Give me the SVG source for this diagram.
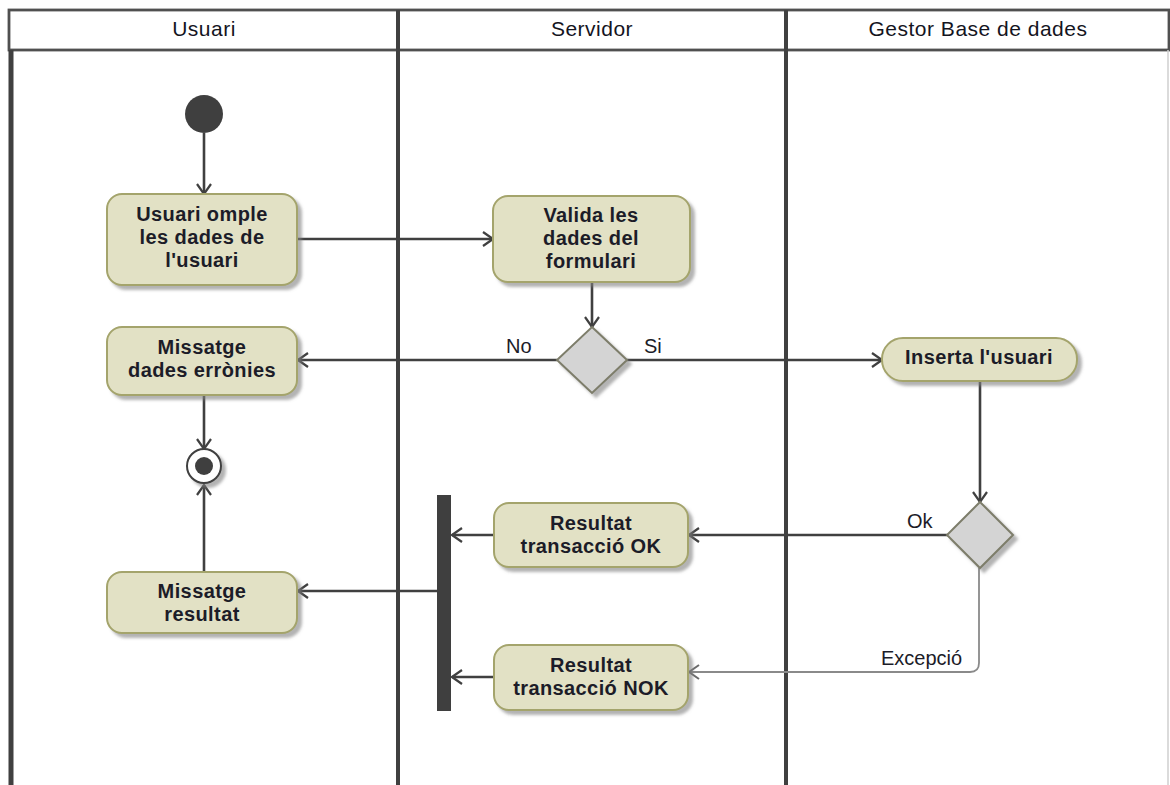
<svg xmlns="http://www.w3.org/2000/svg" width="1170" height="785" viewBox="0 0 1170 785">
  <defs>
    <style>
      .lane-head { font-family: "Liberation Sans", Arial, sans-serif; font-size: 21px; fill: #14141e; text-anchor: middle; letter-spacing: 0.5px; }
      .act { fill: #e2e1c5; stroke: #a4a46c; stroke-width: 2; filter: url(#shadow); }
      .act-text { font-family: "Liberation Sans", Arial, sans-serif; font-size: 20px; font-weight: bold; fill: #1c1c28; text-anchor: middle; letter-spacing: 0.4px; }
      .dec { fill: #d4d4d4; stroke: #7d7d6a; stroke-width: 2; filter: url(#shadow); }
      .flow { fill: none; stroke: #404040; stroke-width: 2.6; marker-end: url(#arr); }
      .flow-light { fill: none; stroke: #8a8a8a; stroke-width: 1.8; marker-end: url(#arr-light); }
      .guard { font-family: "Liberation Sans", Arial, sans-serif; font-size: 20px; fill: #1c1c28; }
    </style>
    <filter id="shadow" x="-10%" y="-10%" width="130%" height="140%">
      <feDropShadow dx="4" dy="4" stdDeviation="1.5" flood-color="#808080" flood-opacity="0.6"/>
    </filter>
    <marker id="arr" viewBox="0 0 12 16" refX="11" refY="8" markerWidth="12" markerHeight="16" markerUnits="userSpaceOnUse" orient="auto">
      <path d="M1,1 L11,8 L1,15" fill="none" stroke="#404040" stroke-width="2.2"/>
    </marker>
    <marker id="arr-light" viewBox="0 0 12 16" refX="11" refY="8" markerWidth="12" markerHeight="16" markerUnits="userSpaceOnUse" orient="auto">
      <path d="M1,1 L11,8 L1,15" fill="none" stroke="#6a6a6a" stroke-width="2"/>
    </marker>
  </defs>

  <rect width="1170" height="785" fill="#ffffff"/>

  <!-- swimlanes -->
  <g id="lanes">
    <rect x="9" y="10" width="1160" height="40" fill="#ffffff" stroke="#505050" stroke-width="2.8"/>
    <line x1="11" y1="50" x2="11" y2="785" stroke="#404040" stroke-width="5"/>
    <line x1="398" y1="10" x2="398" y2="785" stroke="#404040" stroke-width="4"/>
    <line x1="786" y1="10" x2="786" y2="785" stroke="#404040" stroke-width="4"/>
    <line x1="1168" y1="50" x2="1168" y2="785" stroke="#cfcfcf" stroke-width="1.5"/>
    <text class="lane-head" x="204" y="36">Usuari</text>
    <text class="lane-head" x="592" y="36">Servidor</text>
    <text class="lane-head" x="978" y="36">Gestor Base de dades</text>
  </g>

  <!-- connectors -->
  <g id="connectors">
    <line class="flow" x1="204" y1="133" x2="204" y2="194"/>
    <line class="flow" x1="297" y1="239" x2="493" y2="239"/>
    <line class="flow" x1="592" y1="282" x2="592" y2="327"/>
    <line class="flow" x1="557" y1="360" x2="298" y2="360"/>
    <line class="flow" x1="627" y1="360" x2="882" y2="360"/>
    <line class="flow" x1="204" y1="395" x2="204" y2="449"/>
    <line class="flow" x1="204" y1="572" x2="204" y2="485"/>
    <line class="flow" x1="980" y1="381" x2="980" y2="502"/>
    <line class="flow" x1="948" y1="535" x2="689" y2="535"/>
    <path class="flow-light" d="M979,568 L979,663 Q979,672 970,672 L689,672"/>
    <line class="flow" x1="494" y1="535" x2="452" y2="535"/>
    <line class="flow" x1="494" y1="677" x2="452" y2="677"/>
    <line class="flow" x1="437" y1="591" x2="298" y2="591"/>
    <text class="guard" x="506" y="353">No</text>
    <text class="guard" x="644" y="353">Si</text>
    <text class="guard" x="907" y="528">Ok</text>
    <text class="guard" x="881" y="665">Excepció</text>
  </g>

  <!-- nodes -->
  <g id="start">
    <circle cx="204" cy="114" r="19" fill="#3f3f3f"/>
  </g>

  <g id="omplir-dades">
    <rect class="act" x="107" y="194" width="190" height="91" rx="15"/>
    <text class="act-text" x="202" y="221">Usuari omple</text>
    <text class="act-text" x="202" y="244">les dades de</text>
    <text class="act-text" x="202" y="267">l'usuari</text>
  </g>

  <g id="valida-dades">
    <rect class="act" x="493" y="196" width="197" height="86" rx="15"/>
    <text class="act-text" x="591" y="222">Valida les</text>
    <text class="act-text" x="591" y="245">dades del</text>
    <text class="act-text" x="591" y="268">formulari</text>
  </g>

  <g id="decisio-validacio">
    <polygon class="dec" points="592,327 627,360 592,393 557,360"/>
  </g>

  <g id="missatge-error">
    <rect class="act" x="107" y="327" width="190" height="68" rx="15"/>
    <text class="act-text" x="202" y="354">Missatge</text>
    <text class="act-text" x="202" y="377">dades errònies</text>
  </g>

  <g id="inserta-usuari">
    <rect class="act" x="882" y="338" width="195" height="43" rx="21"/>
    <text class="act-text" x="979" y="364">Inserta l'usuari</text>
  </g>

  <g id="final">
    <circle cx="204" cy="466" r="17" fill="#ffffff" stroke="#3f3f3f" stroke-width="2" filter="url(#shadow)"/>
    <circle cx="204" cy="466" r="9" fill="#3f3f3f"/>
  </g>

  <g id="decisio-transaccio">
    <polygon class="dec" points="980,502 1013,535 980,568 947,535"/>
  </g>

  <g id="resultat-ok">
    <rect class="act" x="494" y="503" width="194" height="64" rx="15"/>
    <text class="act-text" x="591" y="530">Resultat</text>
    <text class="act-text" x="591" y="553">transacció OK</text>
  </g>

  <g id="resultat-nok">
    <rect class="act" x="494" y="645" width="194" height="65" rx="15"/>
    <text class="act-text" x="591" y="672">Resultat</text>
    <text class="act-text" x="591" y="695">transacció NOK</text>
  </g>

  <g id="unio">
    <rect x="437" y="495" width="14" height="216" fill="#3f3f3f"/>
  </g>

  <g id="missatge-resultat">
    <rect class="act" x="107" y="572" width="190" height="61" rx="15"/>
    <text class="act-text" x="202" y="598">Missatge</text>
    <text class="act-text" x="202" y="621">resultat</text>
  </g>
</svg>
